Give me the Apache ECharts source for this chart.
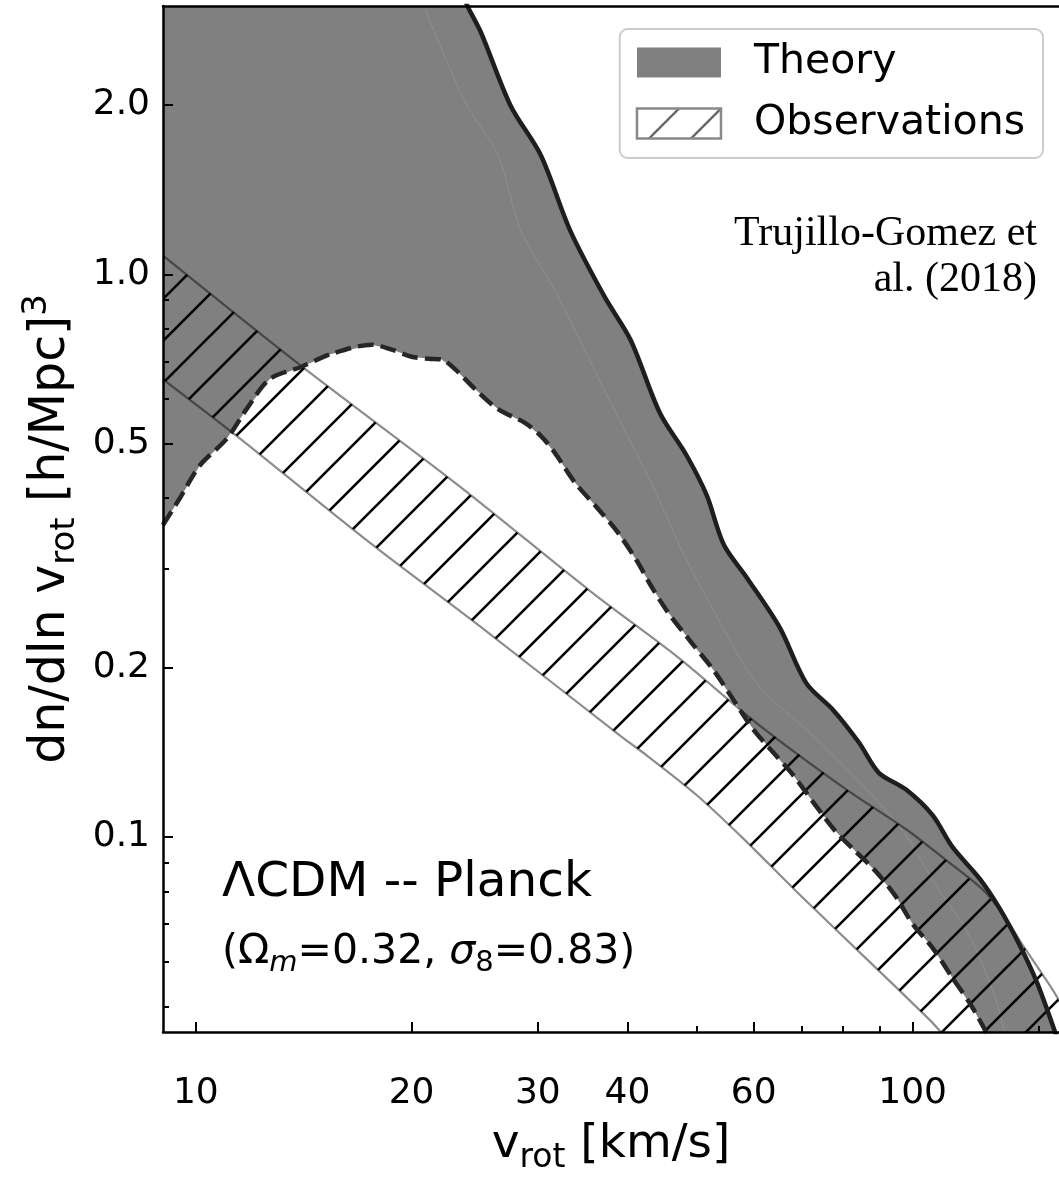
<!DOCTYPE html>
<html><head><meta charset="utf-8">
<script src="https://cdn.jsdelivr.net/npm/echarts@6/dist/echarts.min.js"></script>
<style>html,body{margin:0;padding:0;background:#fff}#c{width:1059px;height:1180px}</style>
</head><body><div id="c"></div>
<script>
// ---- tick values ----
const xMajorTicks = [10, 20, 30, 40, 60, 100];
const xMinorTicks = [50, 70, 80, 90, 150];
const yMajorTicks = [0.1, 0.2, 0.5, 1, 2];
const yMinorTicks = [0.05, 0.06, 0.07, 0.08, 0.09, 0.3, 0.4, 0.6, 0.7, 0.8, 0.9];

// ---- Theory band: upper envelope (solid) ----
const theoryUpperV = [9.0, 16.0, 22.9, 24.0, 25.0, 27.5, 30.3, 33.3, 37.2, 40.4, 44.4, 48.4, 51.6, 54.5, 58.7, 65.2, 71.1, 77.5, 84.2, 89.7, 97.8, 106.6, 113.6, 124.3, 132.4, 141.2, 149.1, 156.4, 161.9];
const theoryUpperN = [6.0, 4.5, 3.35, 2.975, 2.689, 1.992, 1.627, 1.195, 0.911, 0.765, 0.567, 0.476, 0.405, 0.331, 0.289, 0.236, 0.1875, 0.168, 0.147, 0.130, 0.1215, 0.1093, 0.0960, 0.0840, 0.0744, 0.0640, 0.0551, 0.0467, 0.041];

// ---- Theory band: lower envelope (dashed) ----
const theoryLowerV = [9.0, 9.5, 10.13, 11.04, 11.77, 12.67, 14.07, 15.49, 17.6, 18.76, 20.0, 21.11, 22.01, 23.01, 24.53, 26.41, 28.78, 30.29, 31.67, 33.77, 36.34, 38.74, 41.29, 43.04, 45.44, 48.91, 52.8, 56.27, 60.0, 63.96, 68.18, 72.67, 78.21, 83.36, 88.86, 94.71, 100, 106.6, 113.6, 121.1, 128.3];
const theoryLowerN = [0.3585, 0.400, 0.4574, 0.510, 0.576, 0.651, 0.686, 0.723, 0.750, 0.735, 0.714, 0.708, 0.706, 0.678, 0.625, 0.576, 0.5445, 0.5164, 0.482, 0.427, 0.384, 0.3486, 0.3087, 0.281, 0.252, 0.2232, 0.1976, 0.175, 0.155, 0.1411, 0.1286, 0.1152, 0.102, 0.0941, 0.0868, 0.0784, 0.0700, 0.0635, 0.0562, 0.0498, 0.0436];

// ---- faint seam inside theory band ----
const seamV = [20.91, 23.76, 26.41, 28.41, 31.67, 36.34, 40.44, 44.0, 47.38, 52.8, 60.57, 72.67, 82.57, 89.7, 97.8, 107.6, 119.6, 130.3, 134.6];
const seamN = [2.951, 2.025, 1.627, 1.195, 0.937, 0.659, 0.502, 0.405, 0.328, 0.252, 0.1875, 0.1512, 0.1286, 0.1152, 0.1008, 0.0823, 0.0672, 0.0519, 0.0444];

// ---- Observations band ----
const obsUpperV = [9.0, 13.94, 23.24, 35.53, 46.93, 60.57, 80.76, 97.8, 111.1, 125.1, 133.3, 142.1, 151.5, 157.9, 165.6, 179.4];
const obsUpperN = [1.080, 0.692, 0.4217, 0.2733, 0.2092, 0.1594, 0.1215, 0.1033, 0.0911, 0.0807, 0.0732, 0.0645, 0.0571, 0.0527, 0.0472, 0.0386];
const obsLowerV = [9.0, 11.4, 17.43, 25.0, 39.11, 42.63, 50.0, 58.1, 68.83, 88.86, 100, 109.4, 114.7];
const obsLowerN = [0.651, 0.5164, 0.3346, 0.236, 0.1512, 0.1394, 0.1186, 0.0992, 0.080, 0.0585, 0.0506, 0.045, 0.0402];

const zip = (a, b) => a.map((v, i) => [v, b[i]]);

function makeHatch(s, lw, color) {
  const c = document.createElement('canvas');
  c.width = s; c.height = s;
  const g = c.getContext('2d');
  g.strokeStyle = color; g.lineWidth = lw; g.lineCap = 'butt';
  g.beginPath();
  for (const k of [0, s, 2 * s]) { g.moveTo(k + 3, -3); g.lineTo(k - s - 3, s + 3); }
  g.stroke();
  return c;
}
const hatchCanvas = makeHatch(42, 2.6, '#000');
const legendHatch = makeHatch(42, 2.2, '#555');

function bandRender(uV, uN, lV, lN, style) {
  return function (params, api) {
    if (params.dataIndex !== 0) return;
    const pts = [];
    for (let i = 0; i < uV.length; i++) pts.push(api.coord([uV[i], uN[i]]));
    for (let i = lV.length - 1; i >= 0; i--) pts.push(api.coord([lV[i], lN[i]]));
    const cs = params.coordSys;
    return { type: 'polygon', shape: { points: pts }, style: style,
      clipPath: { type: 'rect', shape: { x: cs.x, y: cs.y, width: cs.width, height: cs.height } } };
  };
}

const FONT = 'DejaVu Sans';
const chart = echarts.init(document.getElementById('c'), null, { renderer: 'canvas' });

const axisCommonX = { type: 'log', logBase: 10, min: 9, max: 160, z: 10, splitLine: { show: false } };
const axisCommonY = { type: 'log', logBase: 10, min: 0.045, max: 3.0, z: 10, splitLine: { show: false } };

chart.setOption({
  animation: false,
  backgroundColor: '#fff',
  grid: { left: 163, right: -5, top: 6, bottom: 138, containLabel: false },
  xAxis: [
    Object.assign({}, axisCommonX, {
      position: 'bottom',
      axisLine: { show: true, lineStyle: { color: '#000', width: 2.5 } },
      axisTick: { show: true, inside: true, length: 10, lineStyle: { color: '#000', width: 2 }, customValues: xMajorTicks },
      axisLabel: { show: true, customValues: xMajorTicks, formatter: v => (+v).toFixed(0), fontSize: 36, fontFamily: FONT, color: '#000', margin: 44 },
      name: '{a|v}{s|rot}{a| [km/s]}', nameLocation: 'middle', nameGap: 83,
      nameTextStyle: { fontFamily: FONT, color: '#000', fontSize: 47,
        rich: { a: { fontSize: 47, fontFamily: FONT, color: '#000', lineHeight: 60 },
                s: { fontSize: 33, fontFamily: FONT, color: '#000', lineHeight: 33, verticalAlign: 'bottom' } } }
    }),
    Object.assign({}, axisCommonX, {
      position: 'bottom',
      axisLine: { show: false },
      axisTick: { show: true, inside: true, length: 6, lineStyle: { color: '#000', width: 2 }, customValues: xMinorTicks },
      axisLabel: { show: false }
    }),
    Object.assign({}, axisCommonX, {
      position: 'top',
      axisLine: { show: true, lineStyle: { color: '#000', width: 2.5 } },
      axisTick: { show: false }, axisLabel: { show: false }
    })
  ],
  yAxis: [
    Object.assign({}, axisCommonY, {
      position: 'left',
      axisLine: { show: true, lineStyle: { color: '#000', width: 2.5 } },
      axisTick: { show: true, inside: true, length: 10, lineStyle: { color: '#000', width: 2 }, customValues: yMajorTicks },
      axisLabel: { show: true, customValues: yMajorTicks, formatter: v => (+v).toFixed(1), fontSize: 36, fontFamily: FONT, color: '#000', margin: 13 },
      name: '{a|dn/dln v}{s|rot}{a| [h/Mpc]}{p|3}', nameLocation: 'middle', nameGap: 80,
      nameTextStyle: { fontFamily: FONT, color: '#000', fontSize: 49, padding: [0, 20, 0, 0],
        rich: { a: { fontSize: 49, fontFamily: FONT, color: '#000', lineHeight: 62 },
                s: { fontSize: 34, fontFamily: FONT, color: '#000', lineHeight: 34, verticalAlign: 'bottom' },
                p: { fontSize: 34, fontFamily: FONT, color: '#000', lineHeight: 34, verticalAlign: 'top' } } }
    }),
    Object.assign({}, axisCommonY, {
      position: 'left',
      axisLine: { show: false },
      axisTick: { show: true, inside: true, length: 6, lineStyle: { color: '#000', width: 2 }, customValues: yMinorTicks },
      axisLabel: { show: false }
    })
  ],
  legend: {
    orient: 'vertical', right: 16, top: 29, z: 20,
    itemWidth: 84, itemHeight: 30, itemGap: 20,
    padding: [13, 18, 14, 16],
    backgroundColor: 'rgba(255,255,255,0.85)', borderColor: '#cccccc', borderWidth: 2, borderRadius: 8,
    selectedMode: false,
    textStyle: { fontSize: 41, fontFamily: FONT, color: '#000', padding: [0, 0, 0, 28] },
    data: [
      { name: 'Theory', icon: 'rect', itemStyle: { color: '#808080', borderWidth: 0 } },
      { name: 'Observations', icon: 'rect', itemStyle: { color: { image: legendHatch, repeat: 'repeat' }, borderColor: '#888', borderWidth: 2.5 } }
    ]
  },
  series: [
    { type: 'custom', name: 'Theory', xAxisIndex: 0, yAxisIndex: 0, z: 1, silent: true, clip: true,
      itemStyle: { color: '#808080' },
      data: [[10, 1]], renderItem: bandRender(theoryUpperV, theoryUpperN, theoryLowerV, theoryLowerN, { fill: '#808080', stroke: null }) },
    { type: 'line', name: 'seam', data: zip(seamV, seamN), showSymbol: false, symbol: 'none', z: 2, silent: true,
      smooth: 0.3, lineStyle: { color: '#8f8f8f', width: 1 } },
    { type: 'custom', name: 'Observations', xAxisIndex: 0, yAxisIndex: 0, z: 3, silent: true, clip: true,
      itemStyle: { color: '#888' },
      data: [[10, 1]], renderItem: bandRender(obsUpperV, obsUpperN, obsLowerV, obsLowerN, { fill: { image: hatchCanvas, repeat: 'repeat' }, stroke: null }) },
    { type: 'line', name: 'obs upper', data: zip(obsUpperV, obsUpperN), showSymbol: false, symbol: 'none', z: 4, silent: true,
      smooth: 0.3, lineStyle: { color: 'rgba(0,0,0,0.45)', width: 2.2 } },
    { type: 'line', name: 'obs lower', data: zip(obsLowerV, obsLowerN), showSymbol: false, symbol: 'none', z: 4, silent: true,
      smooth: 0.3, lineStyle: { color: 'rgba(0,0,0,0.45)', width: 2.2 } },
    { type: 'line', name: 'theory lower', data: zip(theoryLowerV, theoryLowerN), showSymbol: false, symbol: 'none', z: 5, silent: true,
      smooth: 0.3, lineStyle: { color: '#262626', width: 4.5, type: [16, 7] } },
    { type: 'line', name: 'theory upper', data: zip(theoryUpperV, theoryUpperN), showSymbol: false, symbol: 'none', z: 5, silent: true,
      smooth: 0.3, lineStyle: { color: '#1e1e1e', width: 4.5 } }
  ],
  graphic: [
    { type: 'text', x: 222, y: 883, z: 30, style: { text: 'ΛCDM -- Planck', fontSize: 48.5, fontFamily: FONT, fill: '#000', align: 'left', verticalAlign: 'middle' } },
    { type: 'text', x: 222, y: 952, z: 30, style: {
        text: '{p|(Ω}{m|m}{p|=0.32, }{g|σ}{s|8}{p|=0.83)}', align: 'left', verticalAlign: 'middle',
        rich: {
          p: { fontSize: 41, fontFamily: FONT, fill: '#000', lineHeight: 52 },
          g: { fontSize: 41, fontFamily: FONT, fill: '#000', lineHeight: 52, fontStyle: 'italic' },
          m: { fontSize: 29, fontFamily: FONT, fill: '#000', lineHeight: 29, verticalAlign: 'bottom', fontStyle: 'italic' },
          s: { fontSize: 29, fontFamily: FONT, fill: '#000', lineHeight: 29, verticalAlign: 'bottom' }
        } } },
    { type: 'text', x: 1037, y: 234, z: 30, style: { text: 'Trujillo-Gomez et', fontSize: 42, fontFamily: 'Liberation Serif', fill: '#000', align: 'right', verticalAlign: 'middle' } },
    { type: 'text', x: 1037, y: 280, z: 30, style: { text: 'al. (2018)', fontSize: 42, fontFamily: 'Liberation Serif', fill: '#000', align: 'right', verticalAlign: 'middle' } }
  ]
});
</script></body></html>
